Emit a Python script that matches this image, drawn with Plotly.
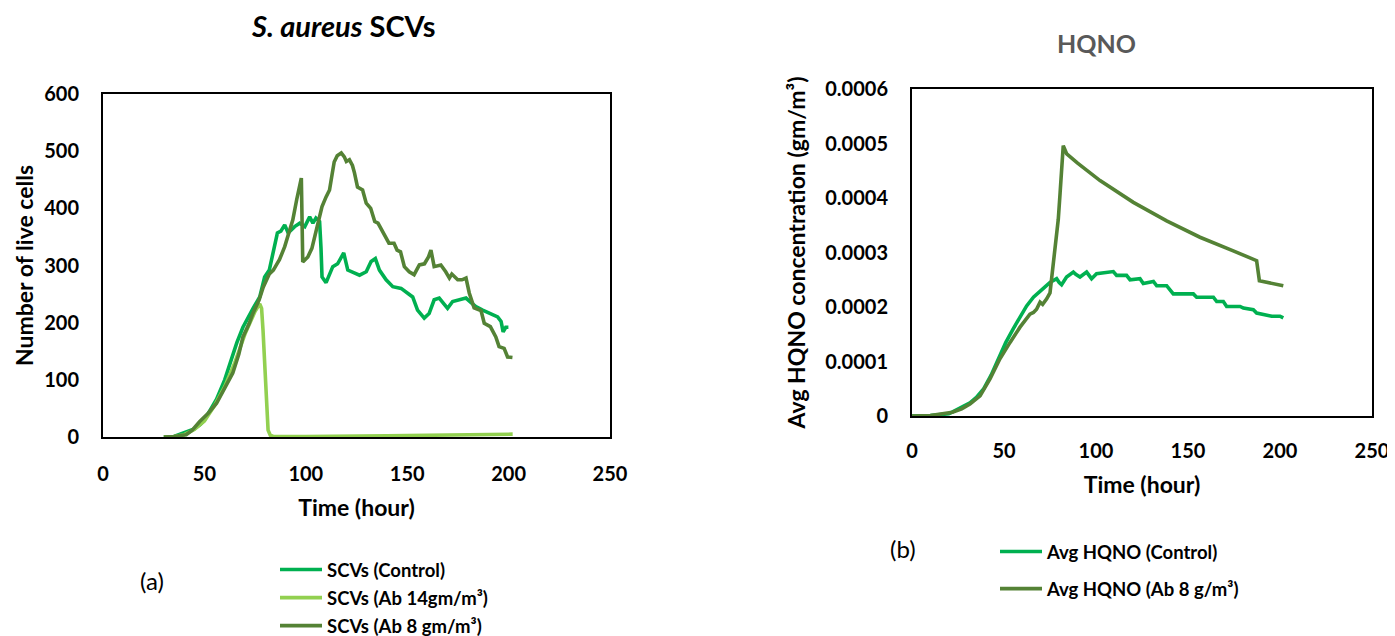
import plotly.graph_objects as go

# ---------------- data: S. aureus SCVs ----------------
scv_ctrl_t = [30, 35, 38, 42, 45, 48, 50, 53, 56, 60, 63, 66, 69, 71, 74, 77.3, 79.7, 82, 83.7, 86, 87.7,
              89.6, 91.3, 94.5, 97, 99.5, 101.9, 103.5, 105, 106.8, 107.5, 108, 110, 113.3, 115.7, 118.7,
              120.7, 124, 126.5, 129.8, 132.2, 134.3, 136.3, 139.6, 142.9, 147, 150.2, 152.7, 155.1, 158.4,
              160.8, 163.3, 165.8, 169.9, 172.4, 175.7, 179, 181.5, 183.9, 187.2, 191.3, 194.6, 196.3,
              197.3, 198.6, 199.9]
scv_ctrl_v = [0, 1, 5, 10, 14, 22, 30, 48, 66, 100, 135, 165, 192, 206, 225, 245, 280, 292, 322, 357, 360,
              371, 357, 368, 374, 368, 385, 374, 383, 377, 330, 280, 270, 298, 303, 322,
              292, 286, 283, 289, 307, 312, 292, 275, 263, 260, 251, 245, 222, 208,
              216, 240, 243, 225, 237, 240, 243, 235, 228, 222, 216, 210, 202,
              184, 192, 192]

scv_ab14_t = [30, 35, 40, 45, 50, 55, 60, 65, 70, 73, 75, 77.3, 78.2, 78.9, 79.7, 80.5, 81.4, 82.5, 84,
              100, 120, 140, 160, 180, 202]
scv_ab14_v = [0, 1, 4, 13, 28, 55, 88, 130, 180, 205, 220, 233, 225, 187, 135, 82, 12, 3, 1,
              1, 1, 2, 3, 4, 5]

scv_ab8_t = [30, 35, 41, 44, 47.7, 52, 56, 60, 64, 67, 69, 72, 74, 77, 79, 82, 84, 85.5, 87, 89.6, 91.5,
             93.6, 95.5, 97.8, 98.5, 101, 103, 105, 108, 110, 111.7, 113, 114, 115.5, 117.5, 119, 120,
             121.5, 123, 124, 125.5, 128, 129.8, 132, 134, 135.6, 138, 141, 143.5, 145, 146.7, 148.6,
             151, 153.4, 156, 158.5, 160.5, 161.7, 163.3, 166.6, 169, 170.8, 172, 174.9, 177, 179,
             180.6, 183, 186.4, 188, 191, 193.7, 195.3, 197.8, 199.5, 201.9]
scv_ab8_v = [0, 1, 4, 12, 27, 42, 59, 85, 112, 145, 175, 198, 217, 240, 262, 285, 292, 301, 310, 333, 355,
             380, 415, 453, 306, 315, 330, 357, 403, 420, 432, 460, 481, 492, 497, 490, 482,
             485, 475, 462, 437, 432, 409, 400, 377, 374, 357, 339, 339, 327, 324, 298,
             289, 284, 301, 303, 315, 327, 298, 301, 289, 278, 285, 275, 275, 278,
             252, 226, 221, 199, 193, 175, 158, 155, 140, 139]

# ---------------- data: HQNO ----------------
hq_ctrl_t = [0, 10, 20, 23.7, 27, 31.5, 35, 38.8, 43, 47.8, 51, 55, 58.5, 62.3, 66, 69.6, 72, 75, 78.6, 80,
             81.3, 84, 87.7, 89, 91.3, 94.9, 96, 97.6, 100.3, 104, 109.4, 111.2, 116.6, 118.5, 123.9,
             125.7, 131.2, 133, 138.4, 142, 152.9, 154.7, 163.8, 165.6, 169.2, 171, 178.3, 180.1,
             185.5, 187.3, 192.8, 195.5, 200, 201.8]
hq_ctrl_v = [0, 1e-6, 4e-6, 1e-5, 1.5e-5, 2.4e-5, 3.4e-5, 4.9e-5, 7.5e-5, 1.11e-4, 1.35e-4, 1.6e-4, 1.8e-4,
             2.02e-4, 2.18e-4, 2.3e-4, 2.36e-4, 2.45e-4, 2.52e-4, 2.45e-4,
             2.41e-4, 2.55e-4, 2.64e-4, 2.6e-4, 2.55e-4, 2.64e-4, 2.6e-4, 2.52e-4, 2.61e-4, 2.62e-4,
             2.65e-4, 2.58e-4, 2.58e-4, 2.5e-4, 2.52e-4,
             2.43e-4, 2.47e-4, 2.39e-4, 2.39e-4, 2.24e-4, 2.24e-4, 2.18e-4, 2.18e-4, 2.1e-4, 2.1e-4,
             2.01e-4, 2.01e-4, 1.98e-4,
             1.95e-4, 1.89e-4, 1.86e-4, 1.83e-4, 1.83e-4, 1.8e-4]

hq_ab8_t = [0, 10, 22, 27, 31.5, 37, 42.4, 47.8, 53.3, 58.7, 64.1, 66, 67.7, 69.6, 71, 73.2, 75, 76.8, 78,
            79.5, 80.5, 81.3, 82.2, 84.1, 90, 102.2, 120.3, 138.4, 156.5, 174.6, 187.3, 188.8, 201.8]
hq_ab8_v = [0, 1e-6, 7e-6, 1.3e-5, 2.2e-5, 3.7e-5, 6.8e-5, 1.05e-4, 1.35e-4, 1.63e-4, 1.87e-4, 1.9e-4,
            1.96e-4, 2.09e-4, 2.05e-4, 2.15e-4, 2.26e-4, 2.82e-4, 3.2e-4,
            3.61e-4, 4.1e-4, 4.66e-4, 4.96e-4, 4.81e-4, 4.64e-4, 4.32e-4, 3.92e-4, 3.58e-4, 3.28e-4,
            3.03e-4, 2.85e-4, 2.48e-4, 2.39e-4]

x_ticks = [0, 50, 100, 150, 200, 250]
scv_ticks = [0, 100, 200, 300, 400, 500, 600]
hq_ticks = [0, 0.0001, 0.0002, 0.0003, 0.0004, 0.0005, 0.0006]
hq_tick_text = ["0", "0.0001", "0.0002", "0.0003", "0.0004", "0.0005", "0.0006"]

C_CTRL = "#00B050"
C_AB14 = "#92D050"
C_AB8 = "#548235"
FONT = "Lato"

# page body has an 8px default margin, so the figure is drawn 8px in from the window corner
OFF = 8
W, H = 1395 - OFF, 636 - OFF
LW = 3.6


def X(px):
    return (px - OFF) / W


def Y(py):
    return 1 - (py - OFF) / H


fig = go.Figure()

fig.add_trace(go.Scatter(x=scv_ctrl_t, y=scv_ctrl_v, mode="lines", name="SCVs (Control)",
                         line=dict(color=C_CTRL, width=LW), xaxis="x", yaxis="y",
                         legend="legend", legendgroup="a1"))
fig.add_trace(go.Scatter(x=scv_ab14_t, y=scv_ab14_v, mode="lines", name="SCVs (Ab 14gm/m³)",
                         line=dict(color=C_AB14, width=LW), xaxis="x", yaxis="y",
                         legend="legend", legendgroup="a2"))
fig.add_trace(go.Scatter(x=scv_ab8_t, y=scv_ab8_v, mode="lines", name="SCVs (Ab 8 gm/m³)",
                         line=dict(color=C_AB8, width=LW), xaxis="x", yaxis="y",
                         legend="legend", legendgroup="a3"))
fig.add_trace(go.Scatter(x=hq_ctrl_t, y=hq_ctrl_v, mode="lines", name="Avg HQNO (Control)",
                         line=dict(color=C_CTRL, width=LW), xaxis="x2", yaxis="y2",
                         legend="legend2", legendgroup="b1"))
fig.add_trace(go.Scatter(x=hq_ab8_t, y=hq_ab8_v, mode="lines", name="Avg HQNO (Ab 8 g/m³)",
                         line=dict(color=C_AB8, width=LW), xaxis="x2", yaxis="y2",
                         legend="legend2", legendgroup="b2"))

tick_font = dict(family=FONT, size=20, color="black", weight="bold")
title_font = dict(family=FONT, size=23, color="black", weight="bold")
legend_font = dict(family=FONT, size=18.5, color="black", weight="bold")

axis_common = dict(showgrid=False, zeroline=False, showline=True, linecolor="black", linewidth=2,
                   mirror=True, ticks="", tickfont=tick_font, automargin=False)

fig.update_layout(
    width=W, height=H,
    margin=dict(l=0, r=0, t=0, b=0, autoexpand=False),
    paper_bgcolor="white", plot_bgcolor="white",
    font=dict(family=FONT, color="black"),
    xaxis=dict(domain=[X(103), X(610)], anchor="y", range=[0, 250], tickvals=x_ticks,
               ticklabelstandoff=18, title=dict(text="Time (hour)", font=title_font, standoff=16),
               **axis_common),
    yaxis=dict(domain=[Y(437), Y(94)], anchor="x", range=[0, 600], tickvals=scv_ticks,
               ticklabelstandoff=18, title=dict(text="Number of live cells", font=title_font, standoff=4),
               **axis_common),
    xaxis2=dict(domain=[X(912), X(1372)], anchor="y2", range=[0, 250], tickvals=x_ticks,
                ticklabelstandoff=16, title=dict(text="Time (hour)", font=title_font, standoff=16),
                **axis_common),
    yaxis2=dict(domain=[Y(416), Y(89)], anchor="x2", range=[0, 0.0006], tickvals=hq_ticks,
                ticktext=hq_tick_text, ticklabelstandoff=18,
                title=dict(text="Avg HQNO concentration (gm/m³)", font=title_font, standoff=13),
                **axis_common),
    legend=dict(x=X(275), xanchor="left", y=Y(551), yanchor="top", orientation="v",
                bgcolor="rgba(0,0,0,0)", borderwidth=0, tracegroupgap=1, itemwidth=42,
                font=legend_font),
    legend2=dict(x=X(995), xanchor="left", y=Y(533), yanchor="top", orientation="v",
                 bgcolor="rgba(0,0,0,0)", borderwidth=0, tracegroupgap=10, itemwidth=42,
                 font=legend_font),
    showlegend=True,
    annotations=[
        dict(text="<b><i>S. aureus</i> SCVs</b>", x=X(343), y=Y(25), xref="paper", yref="paper",
             xanchor="center", yanchor="middle", showarrow=False,
             font=dict(family=FONT, size=29, color="black")),
        dict(text="<b>HQNO</b>", x=X(1096), y=Y(43), xref="paper", yref="paper",
             xanchor="center", yanchor="middle", showarrow=False,
             font=dict(family=FONT, size=25, color="#595959")),
        dict(text="(a)", x=X(152), y=Y(580), xref="paper", yref="paper",
             xanchor="center", yanchor="middle", showarrow=False,
             font=dict(family=FONT, size=24, color="black")),
        dict(text="(b)", x=X(903), y=Y(548), xref="paper", yref="paper",
             xanchor="center", yanchor="middle", showarrow=False,
             font=dict(family=FONT, size=24, color="black")),
    ],
)

fig.write_html("out.html")
